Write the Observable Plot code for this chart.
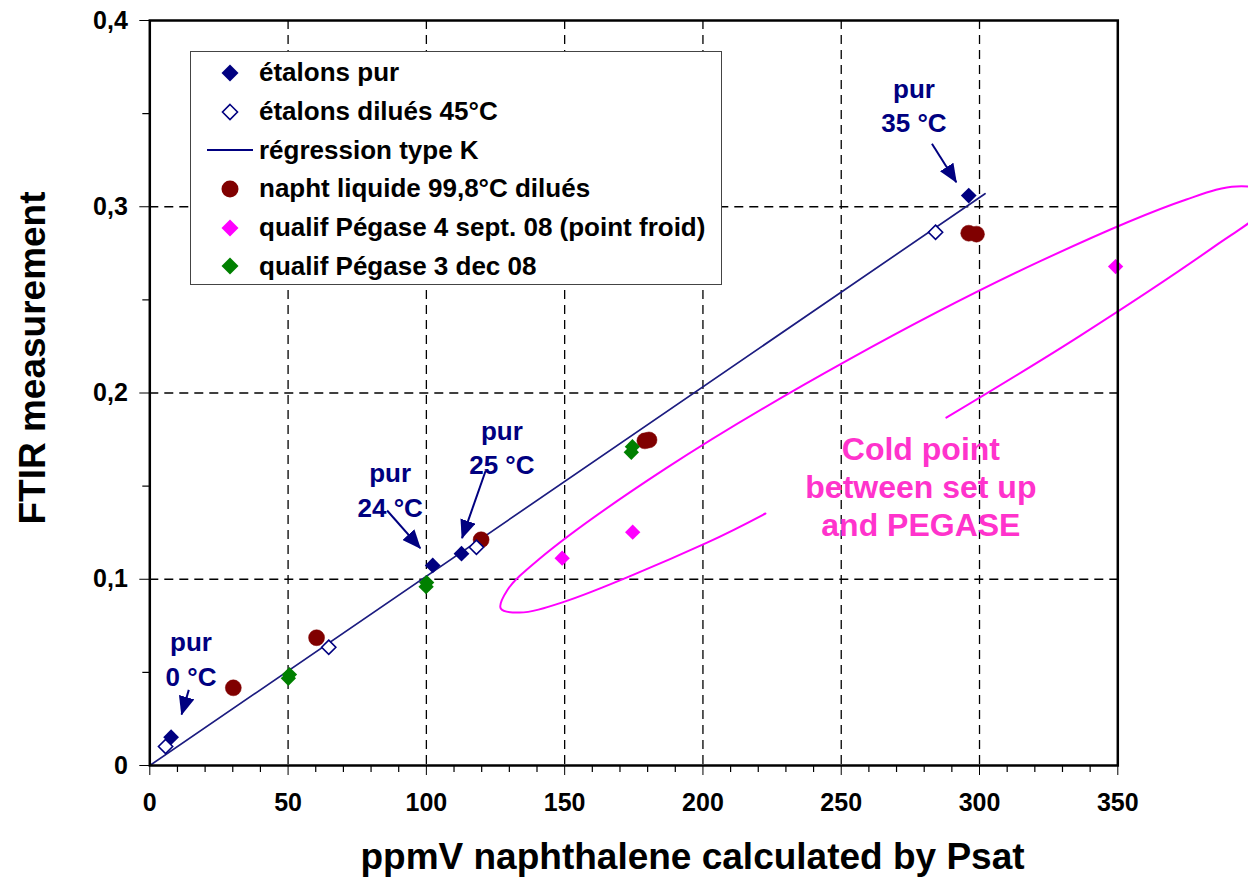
<!DOCTYPE html>
<html>
<head>
<meta charset="utf-8">
<script src="https://cdn.jsdelivr.net/npm/d3@7"></script>
<script src="https://cdn.jsdelivr.net/npm/@observablehq/plot@0.6"></script>
<style>
html, body { margin: 0; padding: 0; background: #fff; overflow: hidden; }
#wrap { position: relative; width: 1248px; height: 879px; }
#legend { position: absolute; left: 190px; top: 51px; width: 532px; height: 234px; border: 1.5px solid #444;
  background: #fff; box-sizing: border-box; font-family: 'Liberation Sans', Arial, sans-serif; font-weight: bold;
  font-size: 26px; color: #000; }
.row { position: absolute; left: 0; height: 38px; display: flex; align-items: center; white-space: nowrap; }
.row svg { display: block; margin-left: 14px; margin-right: 4px; }
</style>
</head>
<body>
<div id="wrap"><div id="legend"></div></div>
<script>
// ---- axes ----
const xTicks = [0, 50, 100, 150, 200, 250, 300, 350];
const xMinor = [10, 20, 30, 40, 60, 70, 80, 90, 110, 120, 130, 140, 160, 170, 180, 190, 210, 220, 230, 240, 260, 270, 280, 290, 310, 320, 330, 340];
const xGrid = [50, 100, 150, 200, 250, 300];
const yTicks = [0, 0.1, 0.2, 0.3, 0.4];
const yMinor = [0.05, 0.15, 0.25, 0.35];
const yGrid = [0.1, 0.2, 0.3];

// ---- series ----
const purX = [7.7, 102.3, 112.7, 296.1];
const purY = [0.0152, 0.1074, 0.1137, 0.306];
const diluX = [5.7, 64.7, 118.1, 284.1];
const diluY = [0.0102, 0.0635, 0.1172, 0.2863];
const regX = [0, 302];
const regY = [0, 0.307];
const naphX = [30.2, 60.3, 119.8, 179.0, 180.5, 296.1, 298.9];
const naphY = [0.0417, 0.0686, 0.1212, 0.1743, 0.1748, 0.2858, 0.2853];
const sept4X = [149.1, 174.6, 349.2];
const sept4Y = [0.1113, 0.1253, 0.2679];
const dec3X = [50.1, 50.5, 99.9, 100.1, 174.1, 174.5];
const dec3Y = [0.0468, 0.0488, 0.0960, 0.0982, 0.1682, 0.1712];

// ---- annotations ----
const annLabels = ["pur\n0 °C", "pur\n24 °C", "pur\n25 °C", "pur\n35 °C"];
const annX = [14.9, 86.9, 127.3, 276.3];
const annY = [0.0579, 0.1488, 0.1717, 0.355];
const arrX1 = [14.1, 85.8, 121.4, 282.8];
const arrY1 = [0.0406, 0.1369, 0.1581, 0.3338];
const arrX2 = [11.5, 97.8, 112.9, 291.6];
const arrY2 = [0.0274, 0.1167, 0.1221, 0.3132];
const coldLabel = ["Cold point\nbetween set up\nand PEGASE"];
const coldX = [278.8];
const coldY = [0.15];
// hand-traced outline of the magenta ellipse (open where the text sits)
const ellX = [288.0, 335.9, 386.4, 402.4, 404.5, 392.9, 374.8, 321.0, 252.7, 186.6, 140.6, 129.2, 126.9, 133.7, 149.2, 201.5, 222.6];
const ellY = [0.1868, 0.2303, 0.2802, 0.2980, 0.3077, 0.3109, 0.3039, 0.2701, 0.2179, 0.1595, 0.1106, 0.0940, 0.0843, 0.0821, 0.0876, 0.1197, 0.1353];

// ---- legend ----
const legendLabels = ["étalons pur", "étalons dilués 45°C", "régression type K", "napht liquide 99,8°C dilués", "qualif Pégase 4 sept. 08 (point froid)", "qualif Pégase 3 dec 08"];
const legendKinds = ["diamond", "open", "line", "circle", "diamond", "diamond"];
const legendColors = ["#000080", "#000080", "#000080", "#800000", "#ff00ff", "#008000"];

const zip = (xs, ys) => xs.map((x, i) => ({x, y: ys[i]}));
const navy = "#000080";

const W = 1248, H = 879, mL = 149.3, mR = 130.7, mT = 20, mB = 114;
const frameW = W - mL - mR, frameH = H - mT - mB;
const dash = "9,6";

const chart = Plot.plot({
  width: W, height: H,
  marginLeft: mL, marginRight: mR, marginTop: mT, marginBottom: mB,
  style: {fontFamily: "'Liberation Sans', Arial, sans-serif", fontSize: "25px", fontWeight: "bold", color: "#000", background: "#fff"},
  x: {domain: [0, 350], ticks: xTicks, tickFormat: d => String(d), tickSize: 10, tickPadding: 18, label: null},
  y: {domain: [0, 0.4], ticks: yTicks, tickFormat: d => d === 0 ? "0" : d.toFixed(1).replace(".", ","), tickSize: 10, tickPadding: 12, label: null},
  marks: [
    Plot.ruleX(xGrid, {stroke: "#000", strokeWidth: 1.3, strokeDasharray: dash}),
    Plot.ruleY(yGrid, {stroke: "#000", strokeWidth: 1.3, strokeDasharray: dash}),
    Plot.ruleX(xMinor, {stroke: "#000", strokeWidth: 1.2, insetTop: frameH - 7, dy: 7}),
    Plot.ruleY(yMinor, {stroke: "#000", strokeWidth: 1.2, insetRight: frameW - 7, dx: -7}),
    Plot.line(zip(ellX, ellY), {x: "x", y: "y", curve: "catmull-rom", stroke: "#ff00ff", strokeWidth: 2}),
    Plot.line(zip(regX, regY), {x: "x", y: "y", stroke: "#1c1c80", strokeWidth: 1.7}),
    Plot.dot(zip(naphX, naphY), {x: "x", y: "y", r: 8, fill: "#800000", stroke: "#800000", strokeWidth: 0.5}),
    Plot.dot(zip(dec3X, dec3Y), {x: "x", y: "y", symbol: "diamond2", r: 6.9, fill: "#008000"}),
    Plot.dot(zip(sept4X, sept4Y), {x: "x", y: "y", symbol: "diamond2", r: 6.9, fill: "#ff00ff"}),
    Plot.dot(zip(diluX, diluY), {x: "x", y: "y", symbol: "diamond2", r: 6.4, fill: "#fff", stroke: navy, strokeWidth: 1.6}),
    Plot.dot(zip(purX, purY), {x: "x", y: "y", symbol: "diamond2", r: 7.1, fill: navy}),
    Plot.link(annX.map((_, i) => ({x1: arrX1[i], y1: arrY1[i], x2: arrX2[i], y2: arrY2[i]})), {x1: "x1", y1: "y1", x2: "x2", y2: "y2", stroke: navy, strokeWidth: 2}),
    Plot.text(zip(annX, annY).map((d, i) => ({...d, t: annLabels[i]})), {x: "x", y: "y", text: "t", fill: navy, fontSize: 26, fontWeight: "bold", lineHeight: 1.32, lineAnchor: "middle", textAnchor: "middle"}),
    Plot.text(zip(coldX, coldY).map((d, i) => ({...d, t: coldLabel[i]})), {x: "x", y: "y", text: "t", fill: "#ff33cc", fontSize: 32, fontWeight: "bold", lineHeight: 1.19, lineAnchor: "middle", textAnchor: "middle"}),
    Plot.text(["ppmV naphthalene calculated by Psat"], {frameAnchor: "bottom", dx: 58.7, dy: 92, fontSize: 37, fontWeight: "bold", lineAnchor: "middle", textAnchor: "middle", fill: "#000"}),
    Plot.text(["FTIR measurement"], {frameAnchor: "left", rotate: -90, dx: -117, dy: -35, fontSize: 37, fontWeight: "bold", lineAnchor: "middle", textAnchor: "middle", fill: "#000"}),
    Plot.frame({stroke: "#000", strokeWidth: 2.5})
  ]
});

// filled arrow heads on the annotation links
const svg = d3.select(chart);
const defs = svg.insert("defs", ":first-child");
defs.append("marker").attr("id", "ah").attr("viewBox", "0 0 19 16").attr("refX", 18).attr("refY", 8)
  .attr("markerWidth", 19).attr("markerHeight", 16).attr("markerUnits", "userSpaceOnUse").attr("orient", "auto")
  .append("path").attr("d", "M0,0L19,8L0,16Z").attr("fill", navy);
svg.selectAll('g[aria-label="link"] path').attr("marker-end", "url(#ah)");

const wrap = document.getElementById("wrap");
wrap.insertBefore(chart, wrap.firstChild);

// legend
const legend = document.getElementById("legend");
const rowTops = [22.3, 61, 99.7, 138.4, 177.1, 215.8];
legendLabels.forEach((lab, i) => {
  const row = document.createElement("div");
  row.className = "row";
  row.style.top = (rowTops[i] - 19 - 1.5) + "px";
  const s = d3.create("svg").attr("width", 50).attr("height", 38);
  const g = s.append("g").attr("transform", "translate(25,19)");
  const k = legendKinds[i], c = legendColors[i];
  if (k === "diamond") g.append("path").attr("d", "M0,-8.5L8.5,0L0,8.5L-8.5,0Z").attr("fill", c);
  else if (k === "open") g.append("path").attr("d", "M0,-7.5L7.5,0L0,7.5L-7.5,0Z").attr("fill", "#fff").attr("stroke", c).attr("stroke-width", 1.6);
  else if (k === "circle") g.append("circle").attr("r", 8.5).attr("fill", c);
  else g.append("line").attr("x1", -23).attr("x2", 23).attr("stroke", c).attr("stroke-width", 2.2);
  row.appendChild(s.node());
  const t = document.createElement("span");
  t.textContent = lab;
  row.appendChild(t);
  legend.appendChild(row);
});
</script>
</body>
</html>
